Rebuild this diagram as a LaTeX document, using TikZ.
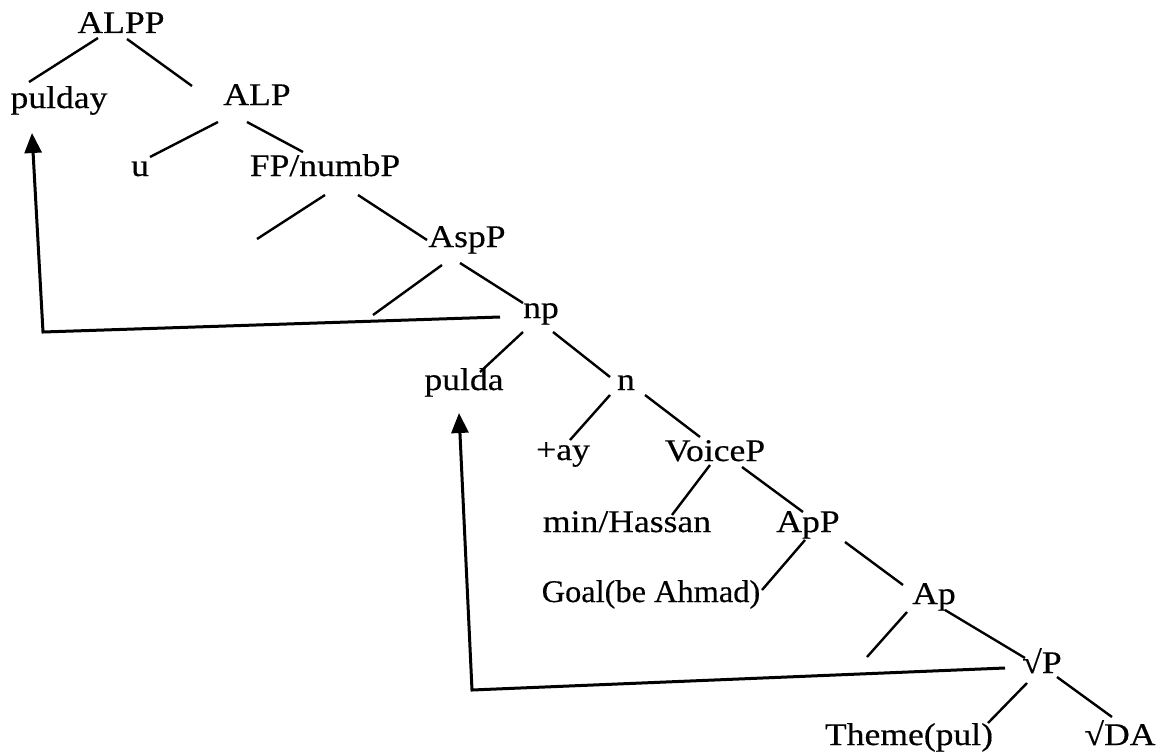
\documentclass[tikz,border=0pt]{standalone}
\usepackage{fontspec}
\usepackage{graphicx}
\setmainfont{Liberation Serif}[FakeStretch=1.13,FakeBold=0.4]
\usetikzlibrary{arrows.meta}
\begin{document}
\begin{tikzpicture}[x=1pt,y=-1pt,
  lbl/.style={anchor=base,inner sep=0pt,font=\fontsize{31.5}{36}\selectfont},
  edge/.style={line width=2.4pt},
  mv/.style={line width=3pt,line join=miter,-{Triangle[length=20pt,width=17pt]}}]
\useasboundingbox[fill=white] (0,0) rectangle (1161,752);
\node[lbl] (ALPP) at (121,33) {ALPP};
\node[lbl] (pulday) at (59,108) {pulday};
\node[lbl] (ALP) at (257,105) {ALP};
\node[lbl] (u) at (140,176) {u};
\node[lbl] (FP) at (325,176) {FP/numbP};
\node[lbl] (AspP) at (467,247) {AspP};
\node[lbl] (np) at (541,318) {np};
\node[lbl] (pulda) at (464,390) {pulda};
\node[lbl] (n) at (626,390) {n};
\node[lbl] (ay) at (563,460) {+ay};
\node[lbl] (VoiceP) at (715,461) {VoiceP};
\node[lbl] (minH) at (627,532) {min/Hassan};
\node[lbl] (ApP) at (808,532) {ApP};
\node[lbl] (Goal) at (651,602) {\scalebox{0.91}[1]{Goal(be Ahmad)}};
\node[lbl] (Ap) at (934,604) {Ap};
\node[lbl] (sqP) at (1042,673) {√P};
\node[lbl] (Theme) at (909,745) {Theme(pul)};
\node[lbl] (sqDA) at (1120,745) {√DA};
\coordinate (e1) at (257,239);
\coordinate (e2) at (373,315);
\coordinate (e3) at (867,657);
\coordinate (c1) at (43,332);
\coordinate (c2) at (472,690);
\begin{scope}[edge]
\draw ([shift={(-23,5)}]ALPP.base) -- ([shift={(-30,-26)}]pulday.base);
\draw ([shift={(6,6)}]ALPP.base) -- ([shift={(-65,-19)}]ALP.base);
\draw ([shift={(-39,17)}]ALP.base) -- ([shift={(10,-19)}]u.base);
\draw ([shift={(-10,17)}]ALP.base) -- ([shift={(-22,-24)}]FP.base);
\draw ([shift={(0,19)}]FP.base) -- (e1);
\draw ([shift={(33,19)}]FP.base) -- ([shift={(-40,-7)}]AspP.base);
\draw ([shift={(-25,18)}]AspP.base) -- (e2);
\draw ([shift={(-7,16)}]AspP.base) -- ([shift={(-18,-15)}]np.base);
\draw ([shift={(-18,14)}]np.base) -- ([shift={(16,-18)}]pulda.base);
\draw ([shift={(12,14)}]np.base) -- ([shift={(-16,-13)}]n.base);
\draw ([shift={(-16,5)}]n.base) -- ([shift={(7,-20)}]ay.base);
\draw ([shift={(19,5)}]n.base) -- ([shift={(-15,-24)}]VoiceP.base);
\draw ([shift={(-5,4)}]VoiceP.base) -- ([shift={(45,-17)}]minH.base);
\draw ([shift={(27,6)}]VoiceP.base) -- ([shift={(-5,-20)}]ApP.base);
\draw ([shift={(-3,8)}]ApP.base) -- ([shift={(111,-12)}]Goal.base);
\draw ([shift={(37,10)}]ApP.base) -- ([shift={(-31,-19)}]Ap.base);
\draw ([shift={(-27,8)}]Ap.base) -- (e3);
\draw ([shift={(11,6)}]Ap.base) -- ([shift={(-17,-15)}]sqP.base);
\draw ([shift={(-15,10)}]sqP.base) -- ([shift={(79,-22)}]Theme.base);
\draw ([shift={(15,4)}]sqP.base) -- ([shift={(-8,-28)}]sqDA.base);
\end{scope}
\draw[mv] ([shift={(-41,-1)}]np.base) -- (c1) -- ([shift={(-27,25)}]pulday.base);
\draw[mv] ([shift={(-37,-5)}]sqP.base) -- (c2) -- ([shift={(-5,23)}]pulda.base);
\end{tikzpicture}
\end{document}
